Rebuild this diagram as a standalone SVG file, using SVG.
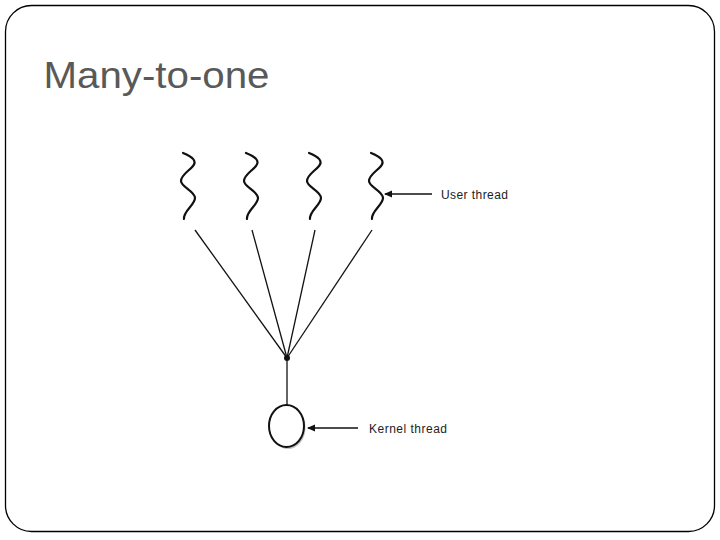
<svg xmlns="http://www.w3.org/2000/svg" width="720" height="540" viewBox="0 0 720 540">
<style>
.ln{stroke:#111;stroke-width:1.3;fill:none}
.sq{stroke:#111;stroke-width:2.2;fill:none;stroke-linecap:round}
.lbl{font-family:"Liberation Sans",Arial,sans-serif;font-size:12px;fill:#222}
</style>
<defs>
<marker id="ah" markerWidth="8" markerHeight="8" refX="7" refY="4" orient="auto" markerUnits="userSpaceOnUse">
<path d="M0,0.5 L8,4 L0,7.5 Z" fill="#111"/>
</marker>
<path id="squig" d="M-4,0 C6,4 10,8 6,13 C2,18 -6,22 -6,28 C-6,34 8,38 8,45 C8,52 -4,58 -3,66"/>
</defs>
<rect x="5.5" y="5.5" width="709" height="526" rx="26" ry="26" fill="#fff" stroke="#000" stroke-width="1.3"/>
<text x="43.5" y="87.5" font-family="'Liberation Sans',Arial,sans-serif" font-size="36" fill="#595959" textLength="226" lengthAdjust="spacingAndGlyphs">Many-to-one</text>
<g id="user-threads">
<use href="#squig" x="187" y="153" class="sq"/>
<use href="#squig" x="250" y="153" class="sq"/>
<use href="#squig" x="313" y="153" class="sq"/>
<use href="#squig" x="375" y="153" class="sq"/>
</g>
<g id="connectors">
<line x1="195" y1="230" x2="287" y2="358" class="ln"/>
<line x1="252" y1="230" x2="287" y2="358" class="ln"/>
<line x1="315" y1="230" x2="287" y2="358" class="ln"/>
<line x1="372" y1="230" x2="287" y2="358" class="ln"/>
<line x1="287" y1="358" x2="287" y2="405" class="ln"/>
<line x1="432" y1="194" x2="385" y2="194" class="ln" marker-end="url(#ah)"/>
<line x1="358" y1="428" x2="308" y2="428" class="ln" marker-end="url(#ah)"/>
</g>
<g id="junction"><circle cx="287" cy="358" r="3" fill="#111"/></g>
<g id="kernel-thread">
<ellipse cx="288" cy="428" rx="17.5" ry="21" fill="#999" opacity="0.6"/>
<ellipse cx="286.5" cy="426" rx="17.5" ry="21" fill="#fff" stroke="#111" stroke-width="2"/>
</g>
<g id="labels">
<text x="441" y="198.5" class="lbl" textLength="67">User  thread</text>
<text x="369" y="432.5" class="lbl" textLength="78">Kernel  thread</text>
</g>
</svg>
